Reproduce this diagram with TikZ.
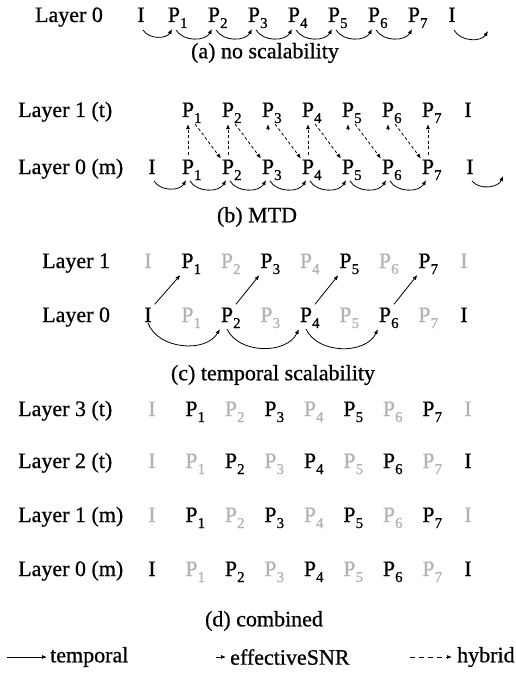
\documentclass[tikz,border=0pt]{standalone}
\usepackage{fontspec}
\setmainfont[FakeBold=0.7]{Liberation Serif}
\usetikzlibrary{arrows.meta,calc}

\newcommand{\fr}[1]{P\rlap{\raisebox{-6pt}{\fontsize{15}{15}\selectfont #1}}}

\tikzstyle{frame}=[inner sep=1pt, outer sep=0pt, anchor=base, font=\fontsize{22}{24}\selectfont]
\tikzstyle{ghost}=[frame, text=black!30]
\tikzstyle{layer}=[inner sep=0pt, anchor=base west, font=\fontsize{22}{24}\selectfont]
\tikzstyle{caption}=[inner sep=0pt, font=\fontsize{22}{24}\selectfont]
\tikzstyle{legend}=[inner sep=0pt, anchor=west, font=\fontsize{22}{24}\selectfont]
\tikzstyle{temporal}=[line width=0.8pt, -{Latex[length=5pt,width=4pt]}]
\tikzstyle{hybrid}=[temporal, dash pattern=on 3pt off 2.5pt]

\begin{document}
\begin{tikzpicture}[x=1pt, y=1pt]
  \useasboundingbox (0,0) rectangle (515,-674);

  % (a) no scalability
  \node[layer, anchor=base] (la0) at (69,-22) {Layer 0};
  \node[frame] (a0) at (141,-22) {I};
  \foreach \k in {1,...,7}
    \node[frame] (a\k) at (134+40*\k,-22) {\fr{\k}};
  \node[frame] (a8) at (452,-22) {I};
  \coordinate (a9) at (488,-31);
  \begin{scope}[every path/.style={temporal}]
    \foreach \k [count=\n] in {0,...,6}
      \draw ($(a\k.base)+(2,-8)$) to[bend right=60] ($(a\n.base)+(-2,-7)$);
    \draw ($(a8.base)+(2,-8)$) to[bend right=60] (a9);
  \end{scope}
  \node[caption] (capa) at (265,-53) {(a) no scalability};

  % (b) MTD
  \node[layer] (lb1) at (18,-117) {Layer 1 (t)};
  \node[layer] (lb0) at (18,-174) {Layer 0 (m)};
  \foreach \k in {1,...,7} {
    \node[frame] (t\k) at (148+40*\k,-117) {\fr{\k}};
    \node[frame] (b\k) at (148+40*\k,-174) {\fr{\k}};
  }
  \node[frame] (t8) at (468,-117) {I};
  \node[frame] (b0) at (152,-174) {I};
  \node[frame] (b8) at (470,-174) {I};
  \coordinate (b9) at (503,-176);
  \begin{scope}[every path/.style={hybrid}]
    \foreach \k in {1,2,4,7}
      \draw ([yshift=4pt]b\k.north) -- (t\k.south);
    \foreach \k [count=\n from 2] in {1,...,6}
      \draw (t\k.south east) -- (b\n.north west);
  \end{scope}
  \foreach \k in {3,5,6}
    \draw[temporal] ([yshift=-5pt]t\k.south) -- (t\k.south);
  \begin{scope}[every path/.style={temporal}]
    \foreach \k [count=\n] in {0,...,6}
      \draw ($(b\k.base)+(2,-7)$) to[bend right=60] ($(b\n.base)+(-2,-6)$);
    \draw ($(b8.base)+(2,-7)$) to[bend right=60] (b9);
  \end{scope}
  \node[caption] (capb) at (257,-217) {(b) MTD};

  % (c) temporal scalability
  \node[layer] (lc1) at (42,-268) {Layer 1};
  \node[layer] (lc0) at (42,-322) {Layer 0};
  \node[ghost] (ct0) at (148,-268) {I};
  \node[ghost] (ct8) at (464,-268) {I};
  \node[frame] (cb0) at (148,-322) {I};
  \node[frame] (cb8) at (464,-322) {I};
  \foreach \k in {1,3,5,7} {
    \node[frame] (ct\k) at (148+39.5*\k,-268) {\fr{\k}};
    \node[ghost] (cb\k) at (148+39.5*\k,-322) {\fr{\k}};
  }
  \foreach \k in {2,4,6} {
    \node[ghost] (ct\k) at (148+39.5*\k,-268) {\fr{\k}};
    \node[frame] (cb\k) at (148+39.5*\k,-322) {\fr{\k}};
  }
  \foreach \k/\n in {0/1,2/3,4/5,6/7}
    \draw[temporal, shorten <=3pt] (cb\k.north east) -- (ct\n.south west);
  \foreach \k/\n in {0/2,2/4,4/6}
    \draw[temporal] (cb\k.south) to[bend right=65] (cb\n.south west);
  \node[caption] (capc) at (273,-375) {(c) temporal scalability};

  % (d) combined
  \node[layer] (ld3) at (18,-416) {Layer 3 (t)};
  \node[layer] (ld2) at (18,-468) {Layer 2 (t)};
  \node[layer] (ld1) at (18,-522) {Layer 1 (m)};
  \node[layer] (ld0) at (18,-576) {Layer 0 (m)};
  \foreach \r/\y in {3/-416,1/-522} {
    \node[ghost] (d\r0) at (152,\y) {I};
    \node[ghost] (d\r8) at (468,\y) {I};
    \foreach \k in {1,3,5,7}
      \node[frame] (d\r\k) at (152+39.5*\k,\y) {\fr{\k}};
    \foreach \k in {2,4,6}
      \node[ghost] (d\r\k) at (152+39.5*\k,\y) {\fr{\k}};
  }
  \foreach \r/\y in {2/-468,0/-576} {
    \node[frame] (d\r8) at (468,\y) {I};
    \foreach \k in {1,3,5,7}
      \node[ghost] (d\r\k) at (152+39.5*\k,\y) {\fr{\k}};
    \foreach \k in {2,4,6}
      \node[frame] (d\r\k) at (152+39.5*\k,\y) {\fr{\k}};
  }
  \node[ghost] (d20) at (152,-468) {I};
  \node[frame] (d00) at (152,-576) {I};
  \node[caption] (capd) at (264,-621) {(d) combined};

  % legend
  \coordinate (lg0) at (7,-657);
  \coordinate (lg1) at (216,-657);
  \coordinate (lg2) at (410,-657);
  \node[legend] (lgt) at (50,-657) {temporal};
  \node[legend] (lgs) at (230,-657) {effectiveSNR};
  \node[legend] (lgh) at (457,-657) {hybrid};
  \draw[temporal] (lg0) -- ([xshift=-3pt]lgt.west);
  \draw[temporal] (lg1) -- ([xshift=-4pt]lgs.west);
  \draw[hybrid, dash pattern=on 5pt off 4pt] (lg2) -- ([xshift=-5pt]lgh.west);
\end{tikzpicture}
\end{document}
